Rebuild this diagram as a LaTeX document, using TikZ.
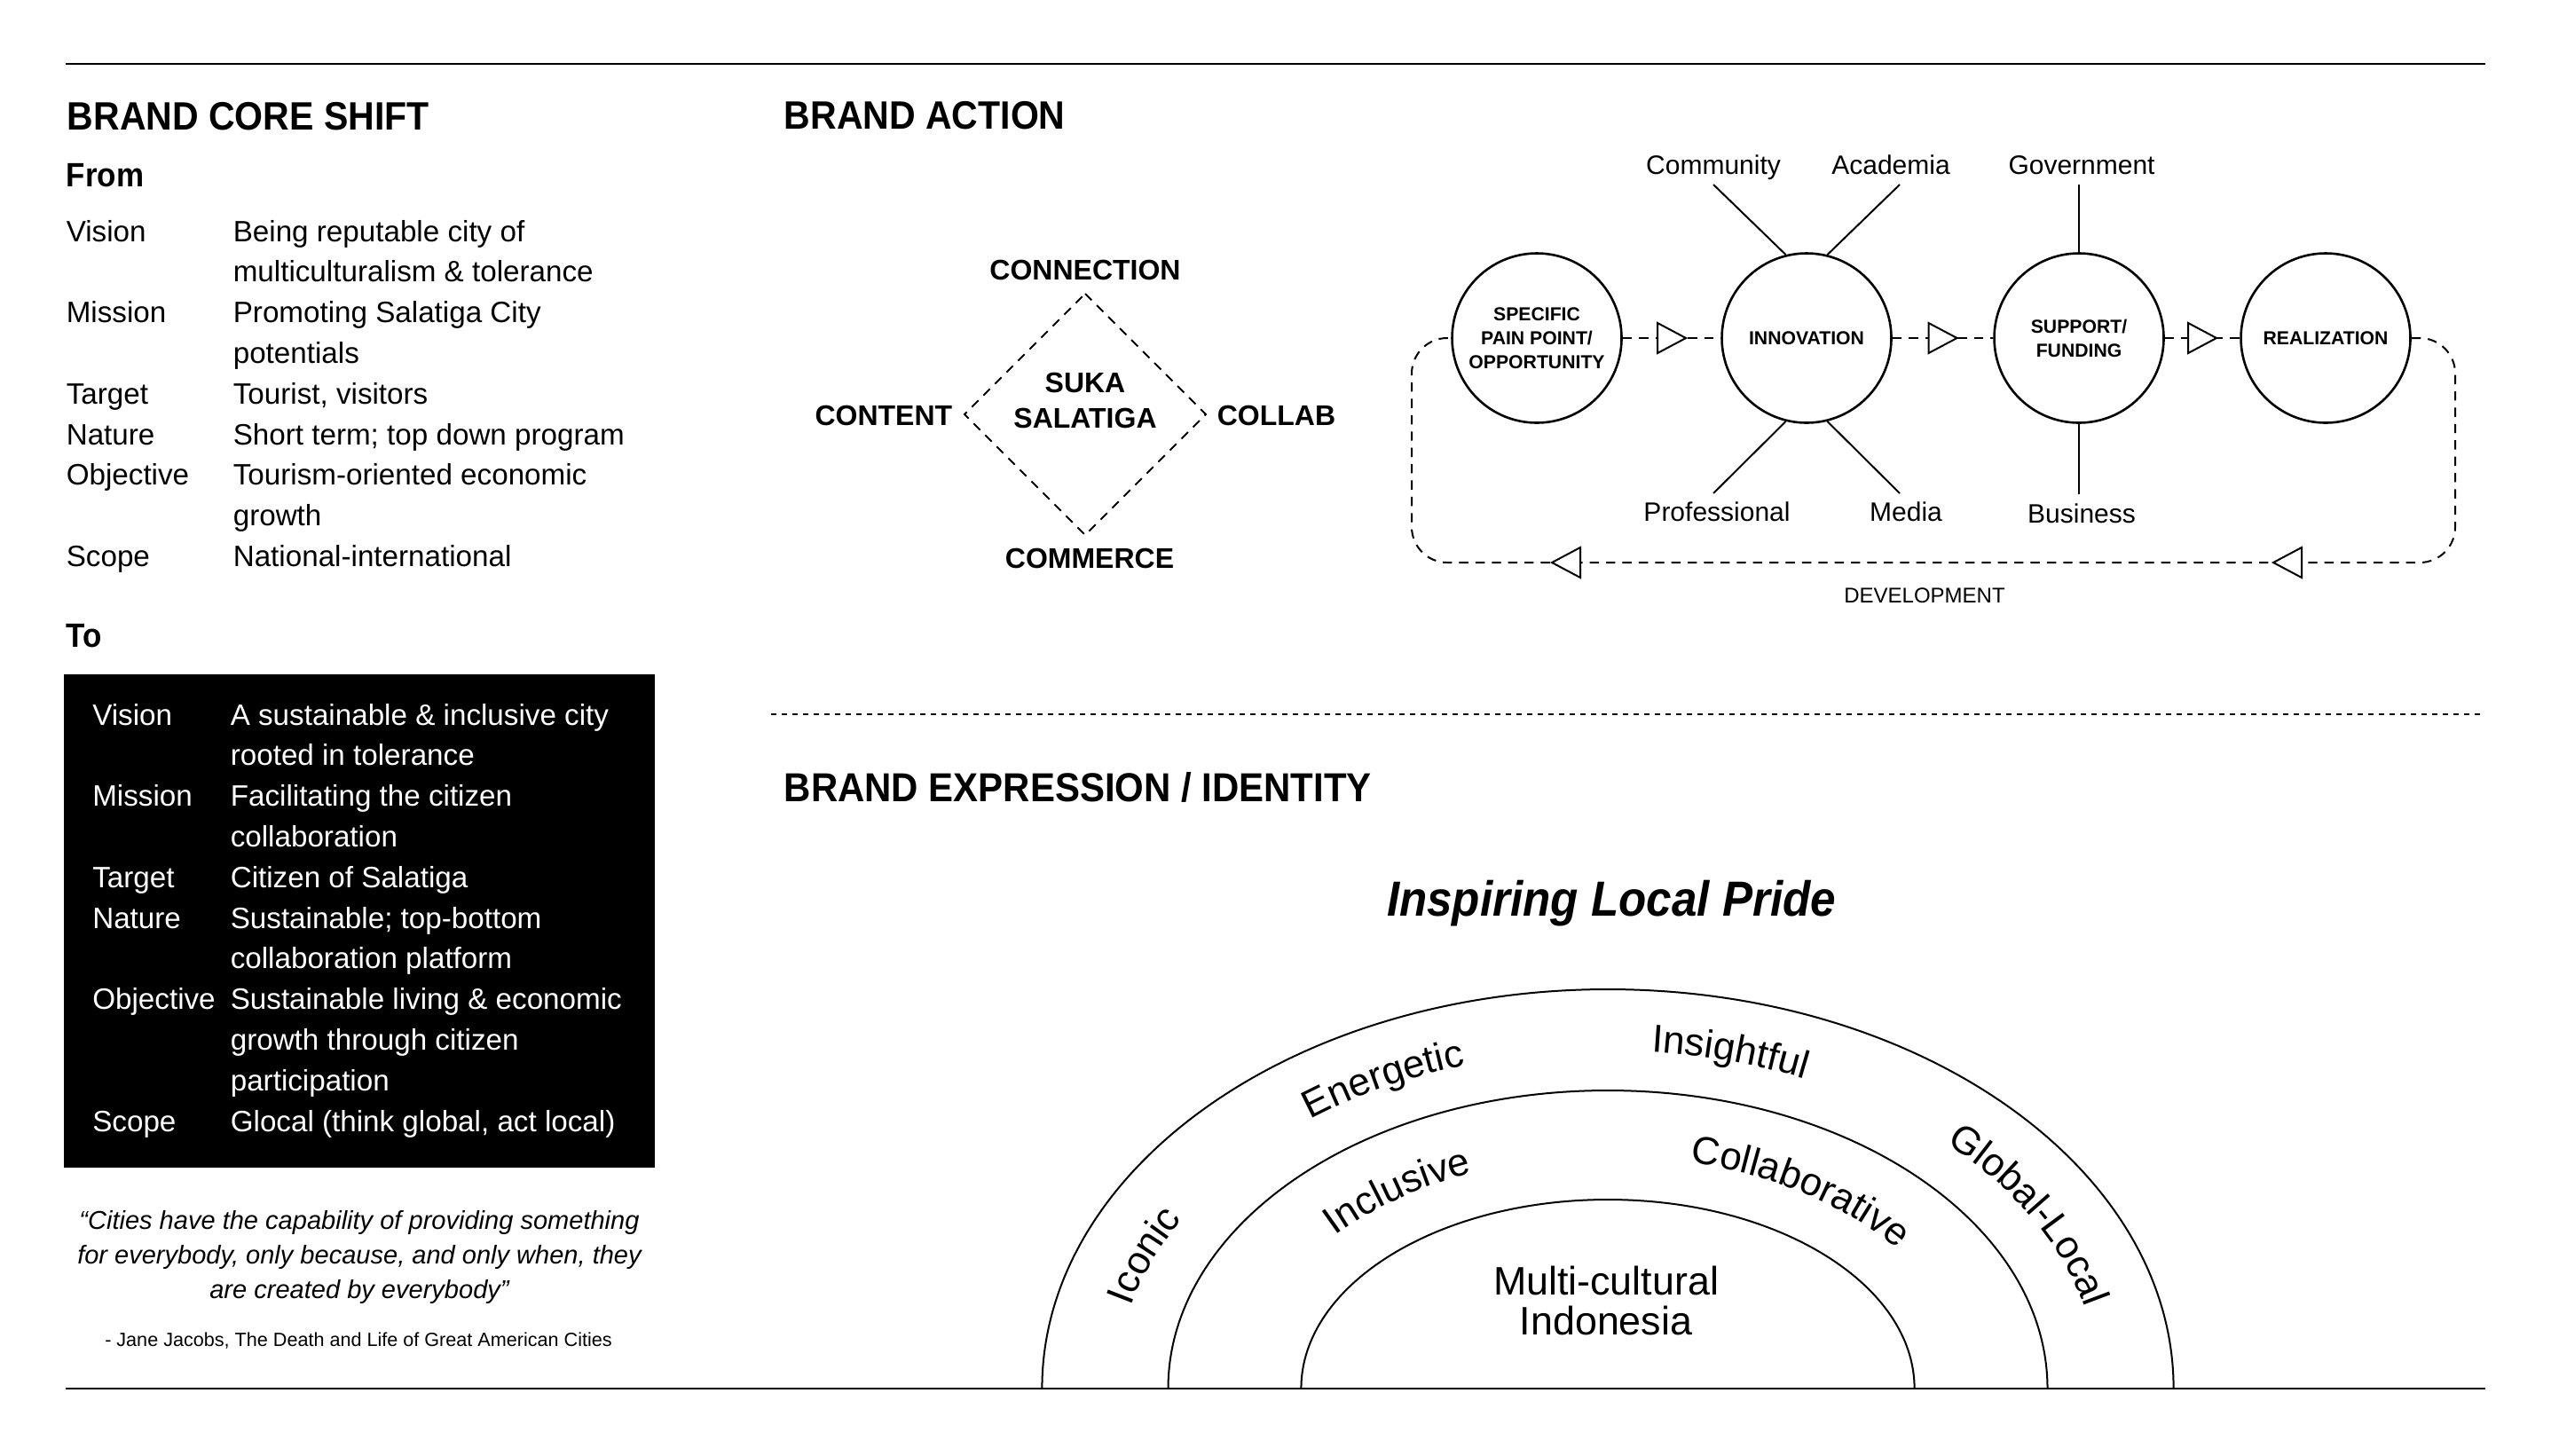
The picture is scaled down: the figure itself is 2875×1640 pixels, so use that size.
\documentclass[tikz,border=0pt]{standalone}
\usepackage{fontspec}
\setmainfont{Liberation Sans}
\newfontfamily\headfont{Liberation Sans}[FakeStretch=0.92]
\usetikzlibrary{decorations.text,calc}
\newcommand\arcwordfont{\fontsize{11}{13}\selectfont}
\begin{document}
\begin{tikzpicture}[x=0.25pt,y=0.25pt,
  txt/.style={inner sep=0, anchor=base west, font=\fontsize{8.3}{10}\selectfont},
  wtxt/.style={txt, text=white},
  head/.style={inner sep=0, anchor=base west, font=\headfont\bfseries\fontsize{11.15}{13}\selectfont},
  subhead/.style={inner sep=0, anchor=base west, font=\headfont\bfseries\fontsize{9.5}{11}\selectfont},
  dlabel/.style={inner sep=0, font=\bfseries\fontsize{8}{10}\selectfont},
  slabel/.style={inner sep=0, anchor=base, font=\fontsize{7.5}{9}\selectfont},
  stage/.style={circle, draw, line width=0.65pt, minimum size=47.75pt, inner sep=0, align=center, font=\bfseries\fontsize{5.3}{6.75}\selectfont},
  flowdash/.style={line width=0.5pt, dash pattern=on 2.6pt off 2pt},
  spoke/.style={line width=0.5pt},
  rule/.style={line width=0.7pt},
  arch/.style={line width=0.5pt},
  tri/.pic={\draw[line width=0.5pt, fill=white] (-16,17) -- (16,0) -- (-16,-17) -- cycle;}
]
\useasboundingbox (0,0) rectangle (2875,-1640);

% frame rules
\coordinate (tl) at (74,-72); \coordinate (tr) at (2801,-72);
\coordinate (bl) at (74,-1565); \coordinate (br) at (2801,-1565);
\draw[rule] (tl) -- (tr);
\draw[rule] (bl) -- (br);

% ---------- BRAND CORE SHIFT ----------
\node[head] (h1) at (75,-146.7) {BRAND CORE SHIFT};
\node[subhead] (from) at (74,-210) {From};
\node[txt] (fl1) at (74,-272) {Vision};
\node[txt] (fv1) at (262,-272) {Being reputable city of};
\node[txt] (fv1b) at (262,-317.8) {multiculturalism \& tolerance};
\node[txt] (fl2) at (74,-363.6) {Mission};
\node[txt] (fv2) at (262,-363.6) {Promoting Salatiga City};
\node[txt] (fv2b) at (262,-409.4) {potentials};
\node[txt] (fl3) at (74,-455.2) {Target};
\node[txt] (fv3) at (262,-455.2) {Tourist, visitors};
\node[txt] (fl4) at (74,-501) {Nature};
\node[txt] (fv4) at (262,-501) {Short term; top down program};
\node[txt] (fl5) at (74,-546.8) {Objective};
\node[txt] (fv5) at (262,-546.8) {Tourism-oriented economic};
\node[txt] (fv5b) at (262,-592.6) {growth};
\node[txt] (fl6) at (74,-638.4) {Scope};
\node[txt] (fv6) at (262,-638.4) {National-international};

\node[subhead] (to) at (74,-729) {To};
\fill[black] (72,-760) rectangle (738,-1316);
\node[wtxt] (tl1) at (103.5,-817) {Vision};
\node[wtxt] (tv1) at (259,-817) {A sustainable \& inclusive city};
\node[wtxt] (tv1b) at (259,-862.8) {rooted in tolerance};
\node[wtxt] (tl2) at (103.5,-908.6) {Mission};
\node[wtxt] (tv2) at (259,-908.6) {Facilitating the citizen};
\node[wtxt] (tv2b) at (259,-954.4) {collaboration};
\node[wtxt] (tl3) at (103.5,-1000.2) {Target};
\node[wtxt] (tv3) at (259,-1000.2) {Citizen of Salatiga};
\node[wtxt] (tl4) at (103.5,-1046) {Nature};
\node[wtxt] (tv4) at (259,-1046) {Sustainable; top-bottom};
\node[wtxt] (tv4b) at (259,-1091.8) {collaboration platform};
\node[wtxt] (tl5) at (103.5,-1137.6) {Objective};
\node[wtxt] (tv5) at (259,-1137.6) {Sustainable living \& economic};
\node[wtxt] (tv5b) at (259,-1183.4) {growth through citizen};
\node[wtxt] (tv5c) at (259,-1229.2) {participation};
\node[wtxt] (tl6) at (103.5,-1275) {Scope};
\node[wtxt] (tv6) at (259,-1275) {Glocal (think global, act local)};

\node[inner sep=0, anchor=base, font=\itshape\fontsize{7.26}{9}\selectfont] (q1) at (405,-1385) {“Cities have the capability of providing something};
\node[inner sep=0, anchor=base, font=\itshape\fontsize{7.26}{9}\selectfont] (q2) at (405,-1424) {for everybody, only because, and only when, they};
\node[inner sep=0, anchor=base, font=\itshape\fontsize{7.26}{9}\selectfont] (q3) at (405,-1463) {are created by everybody”};
\node[inner sep=0, anchor=base, font=\fontsize{5.4}{7}\selectfont] (attr) at (404,-1517) {- Jane Jacobs, The Death and Life of Great American Cities};

% ---------- BRAND ACTION ----------
\node[head] (h2) at (883,-145) {BRAND ACTION};

\coordinate (dT) at (1223,-331); \coordinate (dR) at (1359,-467);
\coordinate (dB) at (1223,-603); \coordinate (dL) at (1087,-467);
\draw[flowdash] (dT) -- (dR) -- (dB) -- (dL) -- cycle;
\node[dlabel, anchor=base] (conn) at (1223,-315) {CONNECTION};
\node[dlabel, anchor=base east] (cont) at (1074,-479) {CONTENT};
\node[dlabel, anchor=base west] (coll) at (1371,-479) {COLLAB};
\node[dlabel, anchor=base] (comm) at (1228,-640) {COMMERCE};
\node[dlabel, anchor=base] (suka) at (1223,-442.4) {SUKA};
\node[dlabel, anchor=base] (sala) at (1223,-482.4) {SALATIGA};

% flow
\node[stage] (s1) at (1732,-381) {SPECIFIC\\PAIN POINT/\\OPPORTUNITY};
\node[stage] (s2) at (2036,-381) {INNOVATION};
\node[stage] (s3) at (2343,-381) {SUPPORT/\\FUNDING};
\node[stage] (s4) at (2621,-381) {REALIZATION};

\draw[flowdash] (s1) -- (s2) coordinate[midway] (m12);
\draw[flowdash] (s2) -- (s3) coordinate[midway] (m23);
\draw[flowdash] (s3) -- (s4) coordinate[midway] (m34);
\pic at (m12) {tri};
\pic at (m23) {tri};
\pic at (m34) {tri};

\coordinate (lTR) at (2767,-381); \coordinate (lBR) at (2767,-634);
\coordinate (lBL) at (1591,-634); \coordinate (lTL) at (1591,-381);
\draw[flowdash, rounded corners=10pt] (s4.east) -- (lTR) -- (lBR) -- (lBL) -- (lTL) -- (s1.west);
\coordinate (ar1) at (2578,-634); \coordinate (ar2) at (1765,-634);
\pic[rotate=180] at (ar1) {tri};
\pic[rotate=180] at (ar2) {tri};
\node[inner sep=0, anchor=base, font=\fontsize{6}{7}\selectfont] (dev) at (2169,-679) {DEVELOPMENT};

% spokes
\coordinate (commE) at (1931,-208);
\coordinate (acadE) at (2141,-208);
\coordinate (profE) at (1931,-556);
\coordinate (mediE) at (2141,-556);
\coordinate (govE) at (2343,-208);
\coordinate (busE) at (2343,-557);
\draw[spoke] (commE) -- (s2.104);
\draw[spoke] (acadE) -- (s2.76);
\draw[spoke] (profE) -- (s2.256);
\draw[spoke] (mediE) -- (s2.284);
\draw[spoke] (govE) -- (s3.north);
\draw[spoke] (busE) -- (s3.south);
\node[slabel] (lcomm) at (1931,-196) {Community};
\node[slabel] (lacad) at (2131,-196) {Academia};
\node[slabel] (lgov) at (2346,-196) {Government};
\node[slabel] (lprof) at (1935,-587) {Professional};
\node[slabel] (lmed) at (2148,-587) {Media};
\node[slabel] (lbus) at (2346,-589) {Business};

% separator
\coordinate (sepL) at (869,-805); \coordinate (sepR) at (2801,-805);
\draw[line width=0.5pt, dash pattern=on 1.5pt off 1.5pt] (sepL) -- (sepR);

% ---------- BRAND EXPRESSION ----------
\node[head, font=\headfont\bfseries\fontsize{11.4}{13}\selectfont] (h3) at (883,-903) {BRAND EXPRESSION / IDENTITY};
\node[inner sep=0, anchor=base, font=\headfont\bfseries\itshape\fontsize{13.9}{16}\selectfont] (pride) at (1816,-1032) {Inspiring Local Pride};

\coordinate (ctr) at (1812,-1565);
\draw[arch] ($(ctr)+(-637.6,0)$) arc[start angle=180, end angle=0, x radius=637.6, y radius=450];
\draw[arch] ($(ctr)+(-495.5,0)$) arc[start angle=180, end angle=0, x radius=495.5, y radius=336];
\draw[arch] ($(ctr)+(-345.6,0)$) arc[start angle=180, end angle=0, x radius=345.6, y radius=213];

\path[decorate, decoration={text along path, text={|\arcwordfont|Iconic}, text align=center}]
  ($(ctr)+(181:554 and 381)$) arc[start angle=181, end angle=137, x radius=554, y radius=381];
\path[decorate, decoration={text along path, text={|\arcwordfont|Energetic}, text align=center}]
  ($(ctr)+(142:554 and 381)$) arc[start angle=142, end angle=94, x radius=554, y radius=381];
\path[decorate, decoration={text along path, text={|\arcwordfont|Insightful}, text align=center}]
  ($(ctr)+(100:554 and 381)$) arc[start angle=100, end angle=50, x radius=554, y radius=381];
\path[decorate, decoration={text along path, text={|\arcwordfont|Global-Local}, text align=center}]
  ($(ctr)+(55:554 and 381)$) arc[start angle=55, end angle=3, x radius=554, y radius=381];
\path[decorate, decoration={text along path, text={|\arcwordfont|Inclusive}, text align=center}]
  ($(ctr)+(154:408 and 262)$) arc[start angle=154, end angle=100, x radius=408, y radius=262];
\path[decorate, decoration={text along path, text={|\arcwordfont|Collaborative}, text align=center}]
  ($(ctr)+(88:408 and 262)$) arc[start angle=88, end angle=22, x radius=408, y radius=262];

\node[inner sep=0, anchor=base, font=\fontsize{11.2}{13}\selectfont] (mc1) at (1810,-1459) {Multi-cultural};
\node[inner sep=0, anchor=base, font=\fontsize{11.2}{13}\selectfont] (mc2) at (1810,-1504) {Indonesia};
\end{tikzpicture}
\end{document}
